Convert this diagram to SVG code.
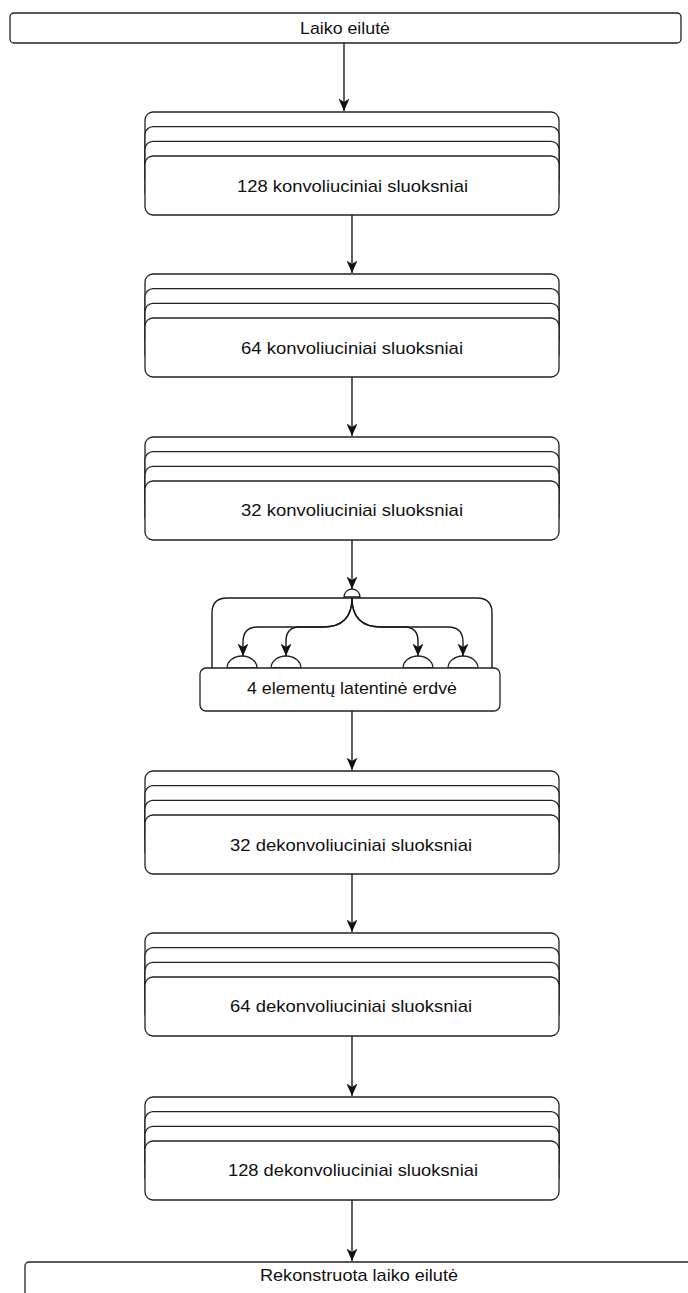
<svg xmlns="http://www.w3.org/2000/svg" width="688" height="1293" viewBox="0 0 688 1293">
  <style>
    .box { fill: #ffffff; stroke: #222222; stroke-width: 1.3; }
    .wire { fill: none; stroke: #1a1a1a; stroke-width: 1.4; }
    .port { fill: #ffffff; stroke: #222222; stroke-width: 1.3; }
    .label { font-family: "Liberation Sans", Arial, sans-serif; font-size: 17px; fill: #111111; text-anchor: middle; }
  </style>
  <defs>
    <marker id="arrow" markerUnits="userSpaceOnUse" markerWidth="14" markerHeight="14" viewBox="0 0 14 14" refX="12.5" refY="7" orient="auto">
      <path d="M0,1.5 L12.5,7 L0,12.5 L3.5,7 Z" fill="#111111"/>
    </marker>
    <!-- four stacked layers; the front one carries the label -->
    <g id="stack">
      <rect class="box" x="145" y="0" width="414" height="59" rx="8"/>
      <rect class="box" x="145" y="14.7" width="414" height="59" rx="8"/>
      <rect class="box" x="145" y="29.3" width="414" height="59" rx="8"/>
      <rect class="box" x="145" y="44" width="414" height="59" rx="8"/>
    </g>
  </defs>

  <!-- input series -->
  <g id="input">
    <rect class="box" x="10" y="13" width="671" height="30" rx="4"/>
    <text class="label" x="345" y="34" textLength="90" lengthAdjust="spacingAndGlyphs">Laiko eilutė</text>
  </g>

  <!-- encoder -->
  <g id="conv128">
    <use href="#stack" y="112"/>
    <text class="label" x="352.5" y="191.5" textLength="231" lengthAdjust="spacingAndGlyphs">128 konvoliuciniai sluoksniai</text>
  </g>
  <g id="conv64">
    <use href="#stack" y="274"/>
    <text class="label" x="352" y="353.5" textLength="222" lengthAdjust="spacingAndGlyphs">64 konvoliuciniai sluoksniai</text>
  </g>
  <g id="conv32">
    <use href="#stack" y="437"/>
    <text class="label" x="352" y="516" textLength="222" lengthAdjust="spacingAndGlyphs">32 konvoliuciniai sluoksniai</text>
  </g>

  <!-- latent space with its four elements -->
  <g id="latent">
    <path class="wire" d="M212,668 L212,613 Q212,598 227,598 L477,598 Q492,598 492,613 L492,668"/>
    <path class="port" d="M344,597 A8,8 0 0 1 360,597 Z"/>
    <path class="port" d="M227,668 A15,12 0 0 1 257,668 Z"/>
    <path class="port" d="M271,668 A15,12 0 0 1 301,668 Z"/>
    <path class="port" d="M403,668 A15,12 0 0 1 433,668 Z"/>
    <path class="port" d="M448,668 A15,12 0 0 1 478,668 Z"/>
    <rect class="box" x="200" y="668" width="300" height="43" rx="6"/>
    <text class="label" x="352" y="693.5" textLength="210" lengthAdjust="spacingAndGlyphs">4 elementų latentinė erdvė</text>
  </g>

  <!-- decoder -->
  <g id="deconv32">
    <use href="#stack" y="771"/>
    <text class="label" x="351" y="850.5" textLength="242" lengthAdjust="spacingAndGlyphs">32 dekonvoliuciniai sluoksniai</text>
  </g>
  <g id="deconv64">
    <use href="#stack" y="933"/>
    <text class="label" x="351" y="1012" textLength="242" lengthAdjust="spacingAndGlyphs">64 dekonvoliuciniai sluoksniai</text>
  </g>
  <g id="deconv128">
    <use href="#stack" y="1097"/>
    <text class="label" x="353" y="1176" textLength="250" lengthAdjust="spacingAndGlyphs">128 dekonvoliuciniai sluoksniai</text>
  </g>

  <!-- reconstructed series -->
  <g id="output">
    <rect class="box" x="25" y="1262" width="670" height="40" rx="4"/>
    <text class="label" x="359" y="1281" textLength="198" lengthAdjust="spacingAndGlyphs">Rekonstruota laiko eilutė</text>
  </g>

  <g id="connectors">
    <path class="wire" d="M344,43 L344,111" marker-end="url(#arrow)"/>
    <path class="wire" d="M352,215 L352,273" marker-end="url(#arrow)"/>
    <path class="wire" d="M352,377 L352,436" marker-end="url(#arrow)"/>
    <path class="wire" d="M352,540 L352,589" marker-end="url(#arrow)"/>
    <path class="wire" d="M352,598 Q352,627 323,627 L258,627 Q243,627 243,642 L243,656" marker-end="url(#arrow)"/>
    <path class="wire" d="M352,598 Q352,627 323,627 L300,627 Q286,627 286,641 L286,656" marker-end="url(#arrow)"/>
    <path class="wire" d="M352,598 Q352,627 381,627 L404,627 Q418,627 418,641 L418,656" marker-end="url(#arrow)"/>
    <path class="wire" d="M352,598 Q352,627 381,627 L448,627 Q463,627 463,642 L463,656" marker-end="url(#arrow)"/>
    <path class="wire" d="M352,711 L352,770" marker-end="url(#arrow)"/>
    <path class="wire" d="M352,874 L352,932" marker-end="url(#arrow)"/>
    <path class="wire" d="M352,1036 L352,1096" marker-end="url(#arrow)"/>
    <path class="wire" d="M352,1200 L352,1261" marker-end="url(#arrow)"/>
  </g>
</svg>
